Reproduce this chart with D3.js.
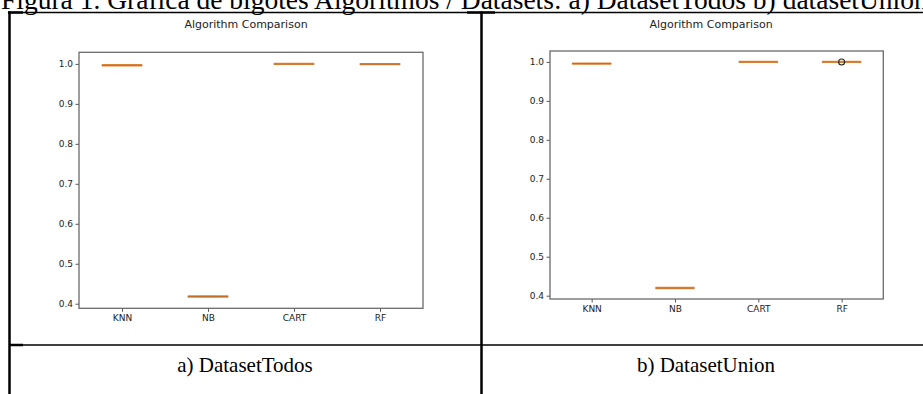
<!DOCTYPE html>
<html>
<head>
<meta charset="utf-8">
<script src="https://cdn.jsdelivr.net/npm/d3@7"></script>
<style>
  html, body { margin: 0; padding: 0; background: #fff; }
  svg { display: block; }
</style>
</head>
<body>
<svg id="chart" width="923" height="394"></svg>
<script>
// ---------------- DATA ----------------
const caption = "Figura 1.  Gráfica de bigotes Algoritmos / Datasets: a) DatasetTodos b) datasetUnion";
const chartTitle = "Algorithm Comparison";
const categories = ["KNN", "NB", "CART", "RF"];
const yTicks = [0.4, 0.5, 0.6, 0.7, 0.8, 0.9, 1.0];
const panelLabels = ["a) DatasetTodos", "b) DatasetUnion"];

// DatasetTodos
const todosQ1      = [0.9960, 0.4175, 0.9995, 0.9990];
const todosMedian  = [0.9965, 0.4180, 1.0000, 0.9995];
const todosQ3      = [0.9970, 0.4185, 1.0000, 1.0000];
const todosLow     = [0.9958, 0.4172, 0.9993, 0.9988];
const todosHigh    = [0.9972, 0.4188, 1.0000, 1.0000];
const todosOutliers = [[], [], [], []];

// DatasetUnion
const unionQ1      = [0.9952, 0.4192, 0.9998, 0.9998];
const unionMedian  = [0.9956, 0.4196, 1.0000, 1.0000];
const unionQ3      = [0.9960, 0.4200, 1.0000, 1.0000];
const unionLow     = [0.9950, 0.4190, 0.9996, 0.9998];
const unionHigh    = [0.9962, 0.4202, 1.0000, 1.0000];
const unionOutliers = [[], [], [], [0.9997]];

// ---------------- DRAW ----------------
const svg = d3.select("#chart");

// Caption (partially cut at top, as in the reference)
svg.append("text")
  .attr("x", 1).attr("y", 9)
  .attr("font-family", "'Liberation Serif', 'Times New Roman', serif")
  .attr("font-size", 27.5)
  .attr("fill", "#000")
  .text(caption);

// Table lines
const line = (x1, y1, x2, y2, w) => svg.append("line")
  .attr("x1", x1).attr("y1", y1).attr("x2", x2).attr("y2", y2)
  .attr("stroke", "#000").attr("stroke-width", w);

line(8, 12.5, 923, 12.5, 1.3);
line(8, 12.5, 23, 12.5, 2.5);
line(467, 12.5, 495, 12.5, 2.5);
line(9.5, 11.5, 9.5, 394, 2.5);
line(481.5, 11.5, 481.5, 394, 2.5);
line(9, 345, 923, 345, 1.6);
line(9, 345, 23, 345, 2.5);

// Panel labels
[[245, panelLabels[0]], [706, panelLabels[1]]].forEach(([cx, t]) => {
  svg.append("text")
    .attr("x", cx).attr("y", 372)
    .attr("text-anchor", "middle")
    .attr("font-family", "'Liberation Serif', 'Times New Roman', serif")
    .attr("font-size", 21)
    .attr("fill", "#000")
    .text(t);
});

function drawPanel(cfg) {
  const x = d3.scaleLinear().domain([0.5, categories.length + 0.5]).range([cfg.left, cfg.right]);
  const y = d3.scaleLinear().domain(cfg.yDomain).range([cfg.bottom, cfg.top]);
  const g = svg.append("g");
  const font = "'DejaVu Sans', sans-serif";

  // title
  g.append("text")
    .attr("x", cfg.titleX).attr("y", 28)
    .attr("text-anchor", "middle")
    .attr("font-family", font).attr("font-size", 11)
    .attr("fill", "#222")
    .text(chartTitle);

  // axes
  const yAxis = g.append("g")
    .attr("transform", `translate(${cfg.left},0)`)
    .call(d3.axisLeft(y).tickValues(yTicks).tickFormat(d3.format(".1f")).tickSize(3.5).tickPadding(2.5));
  const xAxis = g.append("g")
    .attr("transform", `translate(0,${cfg.bottom})`)
    .call(d3.axisBottom(x).tickValues(categories.map((c, i) => i + 1))
      .tickFormat((d) => categories[d - 1]).tickSize(3.5).tickPadding(3));
  [yAxis, xAxis].forEach(a => {
    a.select(".domain").remove();
    a.selectAll(".tick line").attr("stroke", "#444").attr("stroke-width", 0.9);
    a.selectAll(".tick text").attr("font-family", font).attr("font-size", 9).attr("fill", "#222");
  });

  // frame
  g.append("rect")
    .attr("x", cfg.left).attr("y", cfg.top)
    .attr("width", cfg.right - cfg.left).attr("height", cfg.bottom - cfg.top)
    .attr("fill", "none").attr("stroke", "#6a6a6a").attr("stroke-width", 1.3);

  const bw = 0.47, cw = 0.25;
  categories.forEach((c, i) => {
    const p = i + 1;
    const bx0 = x(p - bw / 2), bx1 = x(p + bw / 2);
    // whiskers
    g.append("line").attr("x1", x(p)).attr("x2", x(p))
      .attr("y1", y(cfg.q1[i])).attr("y2", y(cfg.low[i])).attr("stroke", "#000").attr("stroke-width", 0.8).attr("stroke-opacity", 0.5);
    g.append("line").attr("x1", x(p)).attr("x2", x(p))
      .attr("y1", y(cfg.q3[i])).attr("y2", y(cfg.high[i])).attr("stroke", "#000").attr("stroke-width", 0.8).attr("stroke-opacity", 0.5);
    // caps
    [cfg.low[i], cfg.high[i]].forEach(v => {
      g.append("line").attr("x1", x(p - cw / 2)).attr("x2", x(p + cw / 2))
        .attr("y1", y(v)).attr("y2", y(v)).attr("stroke", "#000").attr("stroke-width", 0.8).attr("stroke-opacity", 0.35);
    });
    // median (orange)
    g.append("line").attr("x1", bx0).attr("x2", bx1)
      .attr("y1", y(cfg.median[i])).attr("y2", y(cfg.median[i]))
      .attr("stroke", "#ec8a3c").attr("stroke-width", 2.4);
    // box outline
    g.append("rect").attr("x", bx0).attr("y", y(cfg.q3[i]))
      .attr("width", bx1 - bx0).attr("height", Math.max(0, y(cfg.q1[i]) - y(cfg.q3[i])))
      .attr("fill", "none").attr("stroke", "#5a2a00").attr("stroke-opacity", 0.3).attr("stroke-width", 0.8);
    // outliers
    cfg.outliers[i].forEach(v => {
      g.append("circle").attr("cx", x(p)).attr("cy", y(v)).attr("r", 3)
        .attr("fill", "none").attr("stroke", "#222").attr("stroke-width", 1.1);
    });
  });
}

drawPanel({
  left: 79, right: 423, top: 52.3, bottom: 308.3, titleX: 246,
  yDomain: [0.3885, 1.029],
  q1: todosQ1, median: todosMedian, q3: todosQ3, low: todosLow, high: todosHigh, outliers: todosOutliers
});
drawPanel({
  left: 550, right: 883.3, top: 51, bottom: 299, titleX: 711,
  yDomain: [0.3915, 1.028],
  q1: unionQ1, median: unionMedian, q3: unionQ3, low: unionLow, high: unionHigh, outliers: unionOutliers
});
</script>
</body>
</html>
